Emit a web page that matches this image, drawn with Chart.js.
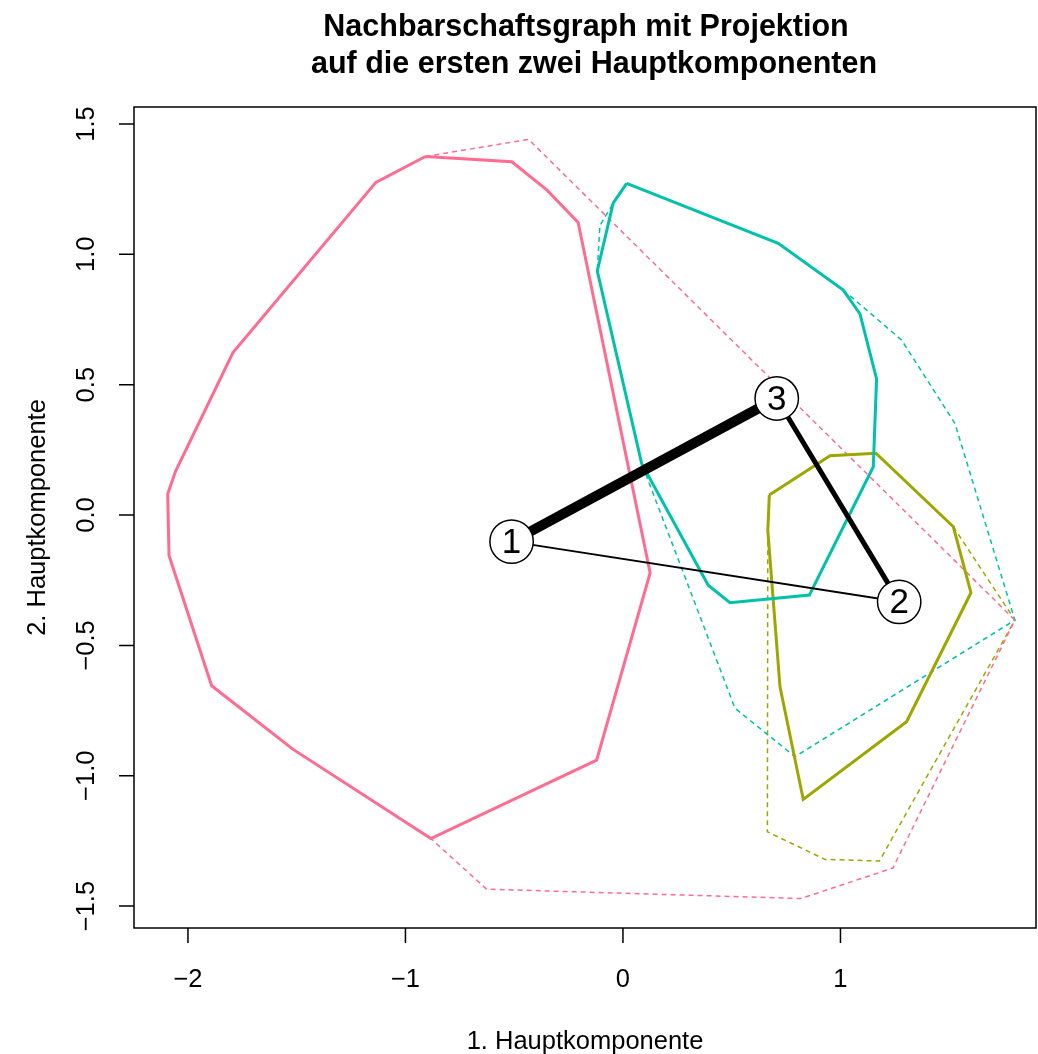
<!DOCTYPE html>
<html lang="de">
<head>
<meta charset="utf-8">
<title>Nachbarschaftsgraph</title>
<script src="https://cdn.jsdelivr.net/npm/chart.js@4.4.1/dist/chart.umd.min.js"></script>
<style>
    html, body { margin: 0; padding: 0; background: #ffffff; overflow: hidden; }
    canvas { display: block; }
</style>
</head>
<body>
<canvas id="graphChart" width="1038" height="1054"></canvas>
<script>

// ===========================
// DATA
// ===========================

const titleLines = ["Nachbarschaftsgraph mit Projektion", "auf die ersten zwei Hauptkomponenten"];
const xTitle = "1. Hauptkomponente";
const yTitle = "2. Hauptkomponente";

const xTicks = [-2, -1, 0, 1];
const yTicks = [-1.5, -1.0, -0.5, 0.0, 0.5, 1.0, 1.5];
const xRange = [-2.248, 1.899];
const yRange = [-1.584, 1.565];

// Cluster 1 (rosa)
const hull1X = [-0.908, -0.511, -0.349, -0.206, 0.125, -0.121, -0.883, -1.518, -1.891, -2.087, -2.093, -2.057, -1.793, -1.136];
const hull1Y = [1.375, 1.355, 1.246, 1.122, -0.222, -0.940, -1.241, -0.898, -0.655, -0.155, 0.081, 0.168, 0.623, 1.276];
const proj1X = [-0.908, -0.434, 1.802, 1.241, 0.818, -0.627, -0.883, -1.518, -1.891, -2.087, -2.093, -2.057, -1.793, -1.136];
const proj1Y = [1.375, 1.441, -0.403, -1.354, -1.471, -1.435, -1.241, -0.898, -0.655, -0.155, 0.081, 0.168, 0.623, 1.276];

// Cluster 2 (olivgrün)
const hull2X = [0.673, 0.952, 1.163, 1.519, 1.600, 1.304, 0.829, 0.722, 0.666];
const hull2Y = [0.077, 0.227, 0.237, -0.045, -0.298, -0.793, -1.091, -0.659, -0.060];
const proj2X = [0.673, 0.952, 1.163, 1.519, 1.802, 1.179, 0.929, 0.664, 0.666];
const proj2Y = [0.077, 0.227, 0.237, -0.045, -0.403, -1.327, -1.321, -1.215, -0.060];

// Cluster 3 (türkis)
const hull3X = [0.017, 0.714, 1.013, 1.090, 1.166, 1.151, 0.857, 0.492, 0.392, 0.086, -0.118, -0.045];
const hull3Y = [1.272, 1.042, 0.863, 0.771, 0.522, 0.185, -0.307, -0.336, -0.269, 0.198, 0.936, 1.196];
const proj3X = [0.017, 0.714, 1.013, 1.281, 1.526, 1.802, 0.791, 0.515, 0.086, -0.118, -0.106, -0.045];
const proj3Y = [1.272, 1.042, 0.863, 0.671, 0.352, -0.403, -0.927, -0.741, 0.198, 0.936, 1.110, 1.196];

const clusterColors = ["#FF6C91", "#9DA700", "#00C1A9"];

// Knoten und Kanten
const nodeLabels = ["1", "2", "3"];
const nodeX = [-0.512, 1.270, 0.707];
const nodeY = [-0.102, -0.333, 0.447];

const edgeFrom = [0, 2, 0];
const edgeTo = [2, 1, 1];
const edgeWidth = [10, 5, 2];

// ===========================
// HELPER
// ===========================

function toPoints(xs, ys, closed) {
    const pts = xs.map((x, i) => ({ x: x, y: ys[i] }));
    if (closed) pts.push({ x: xs[0], y: ys[0] });
    return pts;
}

function polygonDataset(xs, ys, color, dashed) {
    return {
        data: toPoints(xs, ys, true),
        showLine: true,
        borderColor: color,
        borderWidth: dashed ? 1.5 : 3,
        borderDash: dashed ? [5, 4] : [],
        pointRadius: 0,
        fill: false,
        tension: 0,
        order: dashed ? 3 : 2
    };
}

function formatTick(v, digits) {
    const s = Math.abs(v).toFixed(digits);
    return (v < 0 ? "\u2212" : "") + s;
}

// ===========================
// DATASETS
// ===========================

const datasets = [];

// Knoten (oben)
datasets.push({
    data: toPoints(nodeX, nodeY, false),
    showLine: false,
    pointRadius: 21.7,
    pointBackgroundColor: "#ffffff",
    pointBorderColor: "#000000",
    pointBorderWidth: 1.5,
    order: 0
});

// Kanten
edgeFrom.forEach((from, i) => {
    const to = edgeTo[i];
    datasets.push({
        data: [
            { x: nodeX[from], y: nodeY[from] },
            { x: nodeX[to], y: nodeY[to] }
        ],
        showLine: true,
        borderColor: "#000000",
        borderWidth: edgeWidth[i],
        pointRadius: 0,
        order: 1
    });
});

// Hüllen
datasets.push(polygonDataset(hull1X, hull1Y, clusterColors[0], false));
datasets.push(polygonDataset(hull3X, hull3Y, clusterColors[2], false));
datasets.push(polygonDataset(hull2X, hull2Y, clusterColors[1], false));
datasets.push(polygonDataset(proj1X, proj1Y, clusterColors[0], true));
datasets.push(polygonDataset(proj3X, proj3Y, clusterColors[2], true));
datasets.push(polygonDataset(proj2X, proj2Y, clusterColors[1], true));

// ===========================
// PLUGINS
// ===========================

const FONT = "'Liberation Sans', Arial, Helvetica, sans-serif";

const whiteBackground = {
    id: "whiteBackground",
    beforeDraw(chart) {
        const ctx = chart.ctx;
        ctx.save();
        ctx.fillStyle = "#ffffff";
        ctx.fillRect(0, 0, chart.width, chart.height);
        ctx.restore();
    }
};

const nodeLabelPlugin = {
    id: "nodeLabels",
    afterDatasetsDraw(chart) {
        const ctx = chart.ctx;
        const meta = chart.getDatasetMeta(0);
        ctx.save();
        ctx.fillStyle = "#000000";
        ctx.font = "35px " + FONT;
        ctx.textAlign = "center";
        ctx.textBaseline = "middle";
        meta.data.forEach((pt, i) => {
            ctx.fillText(nodeLabels[i], pt.x, pt.y + 1.5);
        });
        ctx.restore();
    }
};

const rAxesPlugin = {
    id: "rAxes",
    afterDraw(chart) {
        const ctx = chart.ctx;
        const area = chart.chartArea;
        const xs = chart.scales.x;
        const ys = chart.scales.y;
        const tickLen = 15;

        ctx.save();
        ctx.strokeStyle = "#000000";
        ctx.fillStyle = "#000000";
        ctx.lineWidth = 1.5;

        // Rahmen
        ctx.strokeRect(area.left, area.top, area.right - area.left, area.bottom - area.top);

        // x-Achse
        ctx.font = "25.5px " + FONT;
        ctx.textAlign = "center";
        ctx.textBaseline = "alphabetic";
        ctx.beginPath();
        xTicks.forEach(v => {
            const px = xs.getPixelForValue(v);
            ctx.moveTo(px, area.bottom);
            ctx.lineTo(px, area.bottom + tickLen);
        });
        ctx.stroke();
        xTicks.forEach(v => {
            ctx.fillText(formatTick(v, 0), xs.getPixelForValue(v), 987);
        });

        // y-Achse
        ctx.beginPath();
        yTicks.forEach(v => {
            const py = ys.getPixelForValue(v);
            ctx.moveTo(area.left, py);
            ctx.lineTo(area.left - tickLen, py);
        });
        ctx.stroke();
        yTicks.forEach(v => {
            const py = ys.getPixelForValue(v);
            ctx.save();
            ctx.translate(94, py);
            ctx.rotate(-Math.PI / 2);
            ctx.fillText(formatTick(v, 1), 0, 0);
            ctx.restore();
        });

        // Achsentitel
        const midX = (area.left + area.right) / 2;
        const midY = (area.top + area.bottom) / 2;
        ctx.fillText(xTitle, midX, 1049);
        ctx.save();
        ctx.translate(45, midY);
        ctx.rotate(-Math.PI / 2);
        ctx.fillText(yTitle, 0, 0);
        ctx.restore();

        // Titel
        ctx.font = "bold 30.5px " + FONT;
        ctx.fillText(titleLines[0], midX + 1, 36);
        ctx.fillText(titleLines[1], midX + 9, 73);

        ctx.restore();
    }
};

// ===========================
// CHART
// ===========================

const ctx = document.getElementById("graphChart").getContext("2d");

const graphChart = new Chart(ctx, {
    type: "scatter",
    data: { datasets: datasets },
    options: {
        responsive: false,
        animation: false,
        devicePixelRatio: 1,
        layout: {
            autoPadding: false,
            padding: { left: 134, right: 2, top: 107, bottom: 126 }
        },
        scales: {
            x: { type: "linear", min: xRange[0], max: xRange[1], display: false },
            y: { type: "linear", min: yRange[0], max: yRange[1], display: false }
        },
        plugins: {
            legend: { display: false },
            tooltip: { enabled: false },
            title: { display: false }
        }
    },
    plugins: [whiteBackground, nodeLabelPlugin, rAxesPlugin]
});

</script>
</body>
</html>
